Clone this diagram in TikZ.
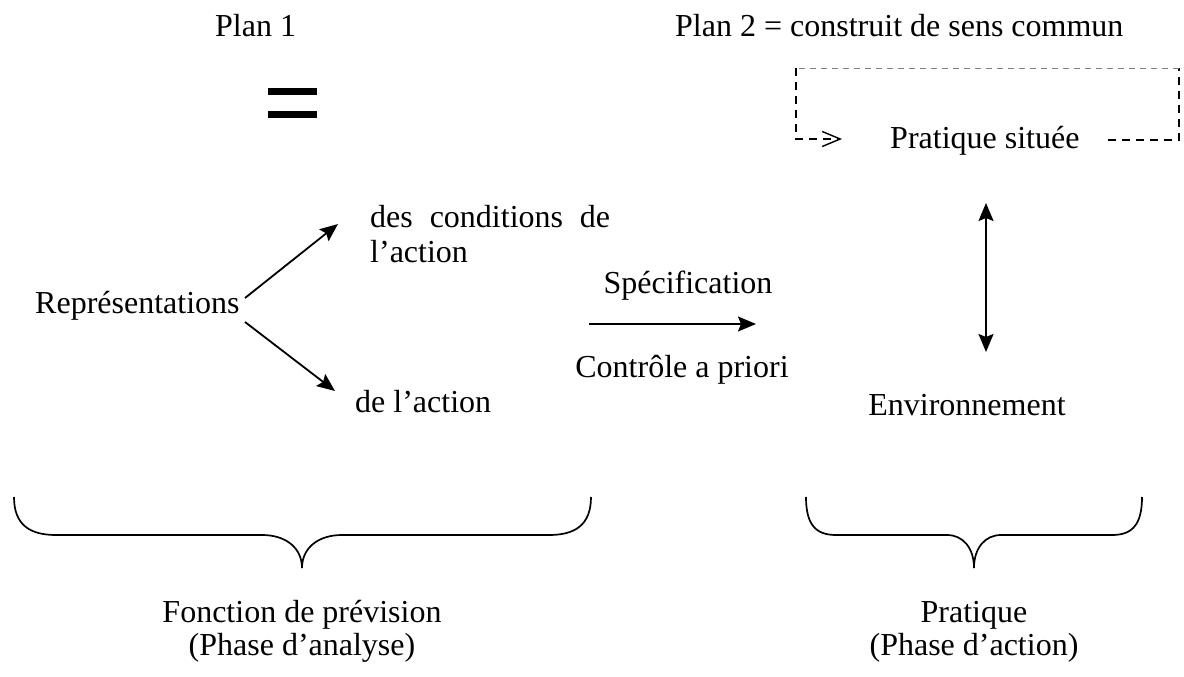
\documentclass[tikz,border=0pt]{standalone}
\usepackage{fontspec}
\setmainfont{Liberation Serif}
\usetikzlibrary{arrows.meta}
\begin{document}
\begin{tikzpicture}[x=1pt,y=-1pt,
  txt/.style={inner sep=0pt,font=\fontsize{32}{38}\selectfont},
  arr/.style={line width=1.8pt,-{Stealth[length=18pt,width=15pt,inset=3pt]}},
  darr/.style={line width=1.8pt,{Stealth[length=18pt,width=15pt,inset=3pt]}-{Stealth[length=18pt,width=15pt,inset=3pt]}},
  dsh/.style={line width=1.3pt,dash pattern=on 8pt off 6pt},
  brace/.style={line width=1.7pt}]
\useasboundingbox (0,0) rectangle (1184,677);
% top labels
\node[txt,anchor=base west] (p1) at (215,37) {Plan 1};
\node[txt,anchor=base west] (p2) at (675,37) {Plan 2 = construit de sens commun};
\fill (268,88) rectangle (317,95);
\fill (268,111) rectangle (317,118);
% situated practice loop
\node[txt,anchor=base west] (ps) at (890,148) {Pratique située};
\coordinate (tl) at (796,68);
\coordinate (bl) at (796,139);
\coordinate (tr) at (1179,68);
\coordinate (br) at (1179,140);
\coordinate (rs) at (1108,140);
\coordinate (ah) at (842,139);
\draw[dsh,-{Straight Barb[length=18pt,width=15pt,line width=1.4pt]}] (tl) -- (bl) -- (ah);
\draw[dsh] (rs) -- (br) -- (tr);
\draw[line width=0.9pt,gray,dash pattern=on 6pt off 5pt] (tr) -- (tl);
% left part
\node[txt,anchor=base west] (rep) at (35,313) {Représentations};
\node[txt,anchor=base west] (c1) at (370,227) {\makebox[240pt][s]{des conditions de}};
\node[txt,anchor=base west] (c2) at (370,262) {l’action};
\node[txt,anchor=base west] (dla) at (355,412) {de l’action};
\coordinate (a1s) at (245,298);
\coordinate (a1e) at (338,224);
\coordinate (a2s) at (245,322);
\coordinate (a2e) at (335,391);
\draw[arr] (a1s) -- (a1e);
\draw[arr] (a2s) -- (a2e);
% middle
\node[txt,anchor=base] (spec) at (688,293) {Spécification};
\node[txt,anchor=base] (ctrl) at (682,377) {Contrôle a priori};
\coordinate (h1) at (589,324);
\coordinate (h2) at (756,324);
\draw[arr] (h1) -- (h2);
% right part
\node[txt,anchor=base] (env) at (967,415) {Environnement};
\coordinate (v1) at (986,203);
\coordinate (v2) at (986,352);
\draw[darr] (v1) -- (v2);
% braces
\draw[brace] (14,497) .. controls (14,525) and (30,535) .. (56,535) -- (262,535)
  .. controls (286,535) and (302,548) .. (302,568);
\draw[brace] (591,497) .. controls (591,525) and (575,535) .. (549,535) -- (342,535)
  .. controls (318,535) and (302,548) .. (302,568);
\draw[brace] (806,497) .. controls (806,525) and (816,535) .. (836,535) -- (947,535)
  .. controls (963,535) and (974,548) .. (974,568);
\draw[brace] (1142,497) .. controls (1142,525) and (1132,535) .. (1112,535) -- (1001,535)
  .. controls (985,535) and (974,548) .. (974,568);
% bottom labels
\node[txt,anchor=base] (fp) at (302,622) {Fonction de prévision};
\node[txt,anchor=base] (pa) at (302,655) {(Phase d’analyse)};
\node[txt,anchor=base] (pr) at (974,622) {Pratique};
\node[txt,anchor=base] (pac) at (974,655) {(Phase d’action)};
\end{tikzpicture}
\end{document}
